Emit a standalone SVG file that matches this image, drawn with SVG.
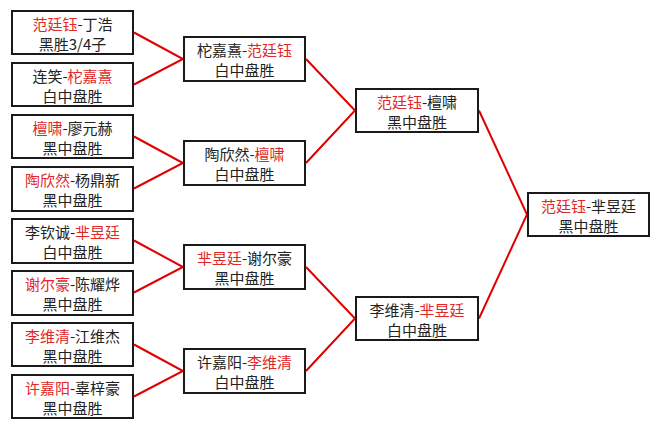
<svg xmlns="http://www.w3.org/2000/svg" width="660" height="429" viewBox="0 0 660 429">
<style>
.box{fill:#fff;stroke:#1a1a1a;stroke-width:2}
.t{font-family:"Noto Sans CJK SC","Noto Sans",sans-serif;font-size:15px;fill:#222;text-anchor:middle}
.r{fill:#e02828}
.c{fill:none;stroke:#e00000;stroke-width:2}
</style>
<rect width="660" height="429" fill="#fff"/>
<g id="connectors">
<path class="c" d="M134,32.5 L183,59 L134,84.5"/>
<path class="c" d="M134,136.5 L183,163 L134,188.5"/>
<path class="c" d="M134,240.5 L183,267 L134,292.5"/>
<path class="c" d="M134,344.5 L183,371 L134,396.5"/>
<path class="c" d="M306,59 L355,110.5 L306,163"/>
<path class="c" d="M306,267 L355,318.5 L306,371"/>
<path class="c" d="M479,110.5 L527,214.5 L479,318.5"/>
</g>
<g id="leaf1"><rect class="box" x="12" y="11" width="121" height="43"/>
<text class="t" x="72.5" y="30"><tspan class="r">范廷钰</tspan>-丁浩</text>
<text class="t" x="72.5" y="49.5">黑胜3/4子</text></g>
<g id="leaf2"><rect class="box" x="12" y="63" width="121" height="43"/>
<text class="t" x="72.5" y="82">连笑-<tspan class="r">柁嘉熹</tspan></text>
<text class="t" x="72.5" y="101.5">白中盘胜</text></g>
<g id="leaf3"><rect class="box" x="12" y="115" width="121" height="43"/>
<text class="t" x="72.5" y="134"><tspan class="r">檀啸</tspan>-廖元赫</text>
<text class="t" x="72.5" y="153.5">黑中盘胜</text></g>
<g id="leaf4"><rect class="box" x="12" y="167" width="121" height="44"/>
<text class="t" x="72.5" y="186"><tspan class="r">陶欣然</tspan>-杨鼎新</text>
<text class="t" x="72.5" y="205.5">黑中盘胜</text></g>
<g id="leaf5"><rect class="box" x="12" y="219" width="121" height="44"/>
<text class="t" x="72.5" y="238">李钦诚-<tspan class="r">芈昱廷</tspan></text>
<text class="t" x="72.5" y="257.5">白中盘胜</text></g>
<g id="leaf6"><rect class="box" x="12" y="271" width="121" height="44"/>
<text class="t" x="72.5" y="290"><tspan class="r">谢尔豪</tspan>-陈耀烨</text>
<text class="t" x="72.5" y="309.5">黑中盘胜</text></g>
<g id="leaf7"><rect class="box" x="12" y="323" width="121" height="43"/>
<text class="t" x="72.5" y="342"><tspan class="r">李维清</tspan>-江维杰</text>
<text class="t" x="72.5" y="361.5">黑中盘胜</text></g>
<g id="leaf8"><rect class="box" x="12" y="375" width="121" height="43"/>
<text class="t" x="72.5" y="394"><tspan class="r">许嘉阳</tspan>-辜梓豪</text>
<text class="t" x="72.5" y="413.5">黑中盘胜</text></g>
<g id="r2a"><rect class="box" x="184" y="37" width="121" height="44"/>
<text class="t" x="244.5" y="56">柁嘉熹-<tspan class="r">范廷钰</tspan></text>
<text class="t" x="244.5" y="75.5">白中盘胜</text></g>
<g id="r2b"><rect class="box" x="184" y="141" width="121" height="44"/>
<text class="t" x="244.5" y="160">陶欣然-<tspan class="r">檀啸</tspan></text>
<text class="t" x="244.5" y="179.5">白中盘胜</text></g>
<g id="r2c"><rect class="box" x="184" y="245" width="121" height="44"/>
<text class="t" x="244.5" y="264"><tspan class="r">芈昱廷</tspan>-谢尔豪</text>
<text class="t" x="244.5" y="283.5">黑中盘胜</text></g>
<g id="r2d"><rect class="box" x="184" y="349" width="121" height="44"/>
<text class="t" x="244.5" y="368">许嘉阳-<tspan class="r">李维清</tspan></text>
<text class="t" x="244.5" y="387.5">白中盘胜</text></g>
<g id="r3a"><rect class="box" x="356" y="89" width="122" height="43"/>
<text class="t" x="417" y="108"><tspan class="r">范廷钰</tspan>-檀啸</text>
<text class="t" x="417" y="127.5">黑中盘胜</text></g>
<g id="r3b"><rect class="box" x="356" y="297" width="122" height="43"/>
<text class="t" x="417" y="316">李维清-<tspan class="r">芈昱廷</tspan></text>
<text class="t" x="417" y="335.5">白中盘胜</text></g>
<g id="final"><rect class="box" x="528" y="193" width="121" height="43"/>
<text class="t" x="588.5" y="212"><tspan class="r">范廷钰</tspan>-芈昱廷</text>
<text class="t" x="588.5" y="231.5">黑中盘胜</text></g>
</svg>
